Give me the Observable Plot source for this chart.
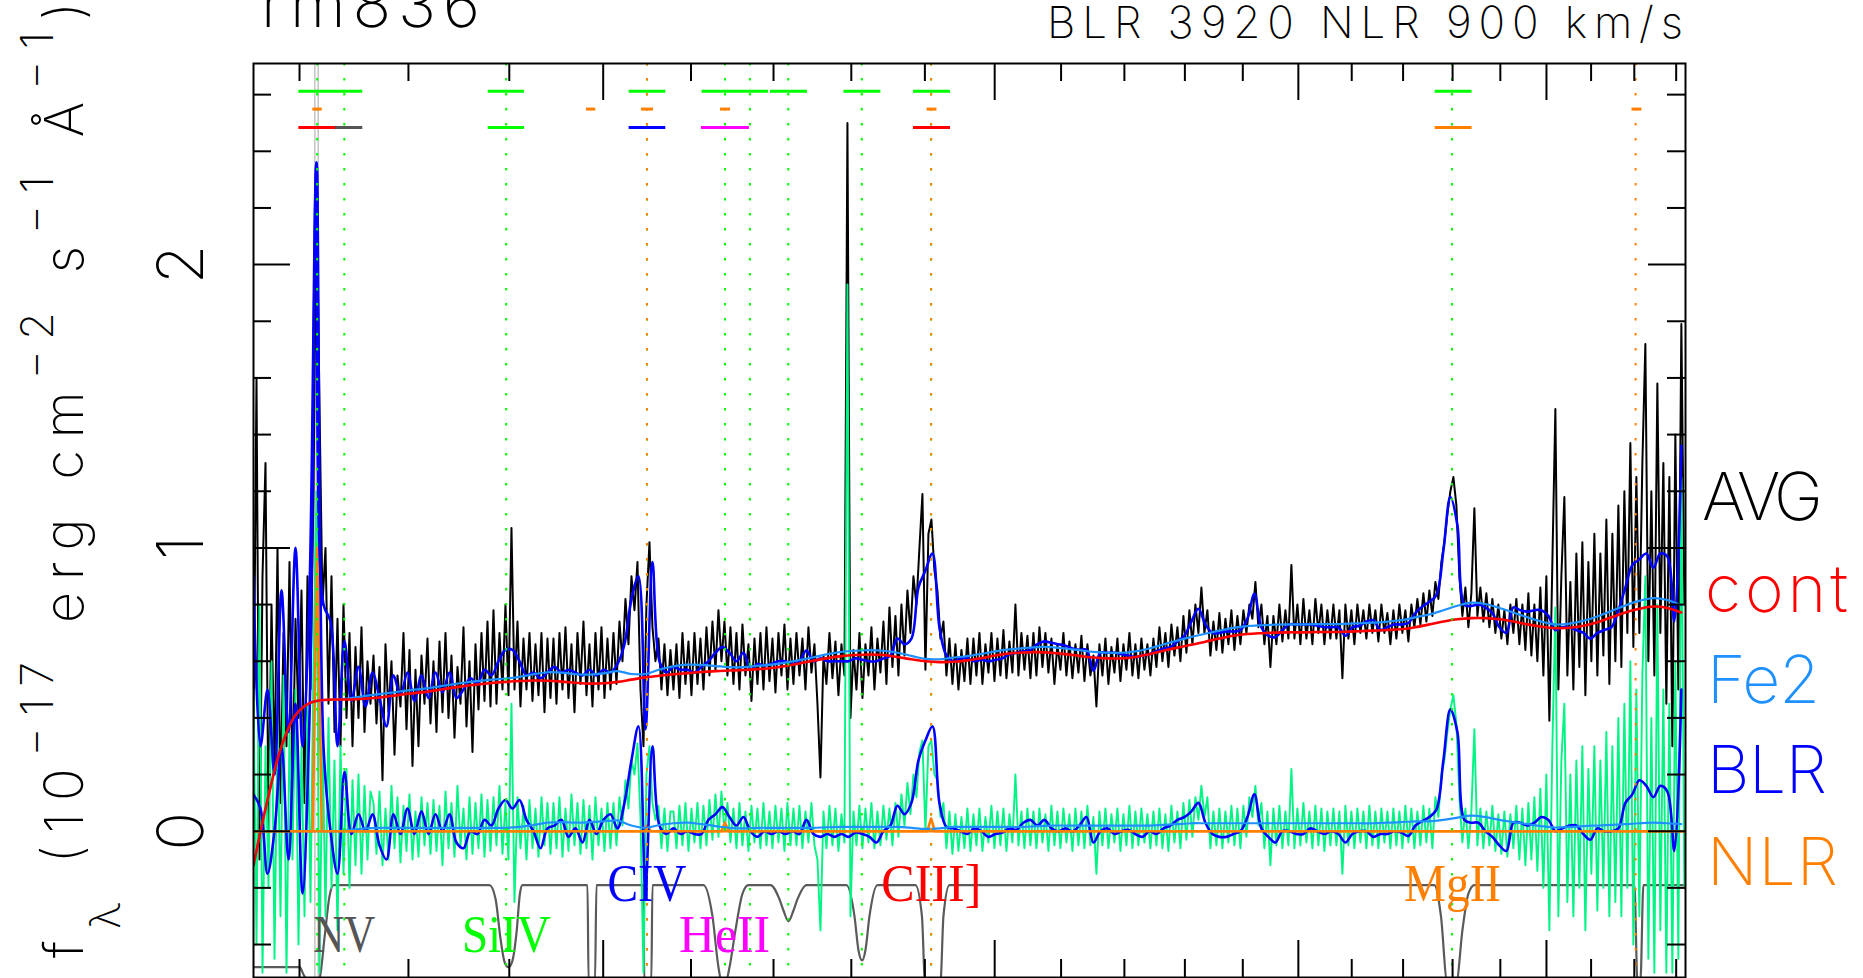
<!DOCTYPE html>
<html><head><meta charset="utf-8">
<script src="https://cdn.jsdelivr.net/npm/d3@7"></script>
<script src="https://cdn.jsdelivr.net/npm/@observablehq/plot@0.6"></script>
<style>
html,body{margin:0;padding:0;background:#fff;overflow:hidden}
#chart svg{display:block}
</style></head><body><div id="chart"></div>
<script>
// ---------------- data (rest-frame wavelength, Angstrom; flux 1e-17 erg/cm2/s/A) ----------------
const LAM0 = 1160.1, LAM1 = 3322.7;
const DENSE_DLN = 0.00220426;   // ln(lambda) step of the spectrum samples
const MODEL_DLN = 0.00514328;   // ln(lambda) step of the model samples
const SMOOTH_DLN = 0.01028655;  // ln(lambda) step of continuum / Fe2 samples

const avgFlux = [
0.3,1.6,-0.1,0.9,1.3,0.0,0.8,0.2,1.0,0.1,0.7,0.3,0.95,0.15,0.75,0.4,0.85,0.1,0.9,0.5,
1.2,2.3,1.5,0.8,1.0,0.45,0.9,0.35,0.75,0.3,0.8,0.4,0.7,0.3,0.65,0.4,0.72,0.35,0.6,0.45,
0.62,0.38,0.58,0.18,0.66,0.42,0.6,0.27,0.55,0.44,0.7,0.36,0.64,0.23,0.57,0.3,0.62,0.45,0.68,0.38,
0.6,0.35,0.67,0.42,0.7,0.4,0.62,0.33,0.58,0.45,0.72,0.37,0.6,0.28,0.66,0.43,0.7,0.46,0.74,0.44,
0.78,0.45,0.7,0.5,0.8,0.48,1.07,0.5,0.74,0.44,0.68,0.5,0.7,0.46,0.66,0.48,0.7,0.42,0.68,0.47,
0.68,0.45,0.7,0.5,0.72,0.47,0.66,0.42,0.7,0.52,0.74,0.48,0.66,0.44,0.7,0.5,0.72,0.47,0.68,0.5,
0.7,0.52,0.74,0.6,0.82,0.66,0.9,0.78,0.95,0.5,0.3,0.8,1.02,0.72,0.6,0.68,0.5,0.66,0.48,0.64,
0.5,0.66,0.47,0.7,0.52,0.67,0.48,0.7,0.52,0.68,0.5,0.72,0.55,0.74,0.57,0.78,0.6,0.74,0.55,0.72,
0.52,0.7,0.5,0.73,0.55,0.66,0.46,0.68,0.52,0.7,0.5,0.72,0.53,0.68,0.49,0.7,0.55,0.73,0.5,0.68,
0.52,0.7,0.55,0.68,0.5,0.72,0.56,0.66,0.45,0.19,0.62,0.52,0.7,0.54,0.67,0.48,0.66,0.55,2.5,0.4,
0.64,0.5,0.7,0.47,0.66,0.55,0.72,0.5,0.68,0.56,0.74,0.52,0.79,0.58,0.76,0.55,0.8,0.62,0.85,0.7,
0.9,0.8,1.0,1.19,0.57,1.05,1.1,0.92,0.85,0.68,0.74,0.55,0.68,0.52,0.66,0.5,0.64,0.53,0.68,0.52,
0.68,0.55,0.7,0.52,0.66,0.56,0.7,0.53,0.68,0.55,0.71,0.54,0.67,0.56,0.8,0.55,0.7,0.57,0.69,0.54,
0.7,0.55,0.72,0.58,0.7,0.56,0.68,0.52,0.66,0.57,0.7,0.55,0.67,0.54,0.66,0.56,0.69,0.53,0.66,0.55,
0.62,0.44,0.66,0.55,0.68,0.52,0.65,0.56,0.68,0.53,0.66,0.57,0.7,0.55,0.66,0.54,0.68,0.57,0.66,0.55,
0.68,0.58,0.72,0.6,0.7,0.58,0.73,0.62,0.72,0.6,0.76,0.63,0.78,0.66,0.8,0.7,0.86,0.7,0.78,0.62,
0.74,0.64,0.77,0.63,0.75,0.66,0.78,0.64,0.76,0.66,0.78,0.7,0.8,0.75,0.88,0.72,0.8,0.66,0.76,0.58,
0.76,0.66,0.8,0.67,0.78,0.68,0.94,0.68,0.8,0.66,0.82,0.68,0.78,0.66,0.82,0.7,0.8,0.66,0.78,0.68,
0.8,0.68,0.78,0.54,0.8,0.68,0.78,0.66,0.8,0.7,0.78,0.68,0.8,0.7,0.78,0.67,0.8,0.7,0.77,0.66,
0.78,0.68,0.8,0.7,0.78,0.67,0.8,0.72,0.82,0.73,0.84,0.74,0.85,0.76,0.88,0.82,0.95,1.02,1.12,1.2,
1.25,1.15,0.9,0.76,0.86,0.72,0.84,1.14,0.76,0.86,0.74,0.84,0.72,0.82,0.7,0.8,0.68,0.78,0.66,0.8,
0.7,0.82,0.66,0.8,0.64,0.84,0.62,0.8,0.6,0.86,0.55,0.9,0.39,0.95,1.49,0.5,0.9,1.18,0.55,0.88,
0.5,0.98,0.58,1.02,0.48,0.95,0.6,1.05,0.55,0.98,0.62,1.1,0.52,1.05,0.6,1.15,0.58,1.2,0.7,1.37,
0.65,1.25,0.7,1.3,1.72,0.6,1.2,0.55,1.58,0.7,1.3,0.45,1.25,0.3,1.4,0.5,1.79,0.8];

const residFlux = [
0.5,-0.4,0.8,-0.5,0.3,-0.2,0.6,-0.45,0.4,-0.3,0.55,-0.5,0.35,-0.1,0.5,-0.4,0.3,-0.3,0.45,-0.25,
0.6,1.2,-0.5,0.35,-0.3,0.4,-0.2,0.25,-0.35,0.3,-0.15,0.22,-0.2,0.18,-0.12,0.2,-0.15,0.16,-0.1,0.14,
0.1,-0.08,0.14,-0.12,0.08,-0.1,0.16,-0.06,0.12,-0.11,0.09,-0.07,0.13,-0.1,0.07,-0.09,0.12,-0.05,0.1,-0.08,
0.11,-0.07,0.09,-0.12,0.14,-0.06,0.1,-0.09,0.16,-0.05,0.08,-0.1,0.12,-0.08,0.1,-0.06,0.13,-0.09,0.11,-0.07,
0.12,-0.05,0.16,-0.08,0.1,-0.1,0.45,-0.25,0.12,-0.06,0.09,-0.1,0.11,-0.06,0.08,-0.09,0.12,-0.05,0.1,-0.08,
0.1,-0.06,0.12,-0.09,0.08,-0.07,0.13,-0.05,0.1,-0.08,0.11,-0.06,0.09,-0.1,0.12,-0.05,0.08,-0.07,0.1,-0.06,
0.1,-0.05,0.12,0.02,0.18,0.08,0.25,0.2,0.31,0.05,-0.5,0.2,0.3,0.1,0.04,0.09,-0.06,0.08,-0.07,0.07,
0.07,-0.06,0.09,-0.05,0.1,-0.07,0.08,-0.04,0.1,-0.06,0.09,-0.05,0.11,-0.03,0.13,-0.02,0.14,0.0,0.1,-0.04,
0.08,-0.06,0.1,-0.05,0.07,-0.07,0.09,-0.04,0.08,-0.06,0.1,-0.05,0.07,-0.06,0.09,-0.04,0.08,-0.07,0.1,-0.05,
0.08,-0.05,0.09,-0.06,0.07,-0.04,0.1,-0.05,-0.1,-0.35,0.07,-0.06,0.09,-0.05,0.08,-0.07,0.06,-0.04,1.93,-0.3,
0.07,-0.05,0.09,-0.06,0.08,-0.04,0.1,-0.06,0.07,-0.05,0.09,-0.03,0.08,-0.05,0.1,-0.02,0.13,0.02,0.17,0.06,
0.2,0.12,0.28,0.32,0.0,0.3,0.32,0.2,0.18,0.05,0.1,-0.06,0.07,-0.08,0.06,-0.07,0.05,-0.06,0.08,-0.07,
0.06,-0.05,0.08,-0.07,0.05,-0.04,0.09,-0.06,0.07,-0.05,0.08,-0.07,0.06,-0.04,0.2,-0.05,0.07,-0.06,0.08,-0.05,
0.07,-0.06,0.08,-0.04,0.06,-0.07,0.09,-0.05,0.07,-0.06,0.08,-0.04,0.06,-0.07,0.08,-0.05,0.07,-0.06,0.09,-0.05,
0.05,-0.15,0.07,-0.05,0.08,-0.06,0.06,-0.04,0.08,-0.07,0.06,-0.05,0.09,-0.06,0.07,-0.05,0.08,-0.04,0.06,-0.06,
0.07,-0.05,0.08,-0.06,0.06,-0.07,0.09,-0.04,0.07,-0.06,0.1,-0.03,0.11,-0.02,0.12,0.04,0.16,0.05,0.12,-0.06,
0.07,-0.05,0.08,-0.06,0.07,-0.04,0.09,-0.05,0.08,-0.06,0.09,-0.02,0.12,0.05,0.16,0.02,0.1,-0.06,0.07,-0.12,
0.08,-0.05,0.09,-0.06,0.07,-0.05,0.22,-0.06,0.08,-0.05,0.1,-0.04,0.07,-0.06,0.09,-0.05,0.08,-0.07,0.07,-0.05,
0.08,-0.05,0.07,-0.15,0.09,-0.05,0.07,-0.06,0.08,-0.04,0.07,-0.06,0.09,-0.05,0.07,-0.06,0.08,-0.04,0.07,-0.06,
0.08,-0.05,0.07,-0.06,0.09,-0.04,0.08,-0.06,0.07,-0.05,0.09,-0.04,0.08,-0.06,0.12,0.05,0.2,0.25,0.35,0.43,
0.48,0.38,0.12,-0.04,0.08,-0.06,0.07,0.36,-0.05,0.08,-0.06,0.07,-0.05,0.09,-0.07,0.06,-0.08,0.07,-0.09,0.06,
-0.06,0.09,-0.1,0.08,-0.12,0.1,-0.1,0.12,-0.14,0.15,-0.2,0.2,-0.35,0.3,0.79,-0.3,0.25,0.45,-0.25,0.2,
-0.3,0.25,-0.2,0.3,-0.35,0.22,-0.15,0.3,-0.28,0.25,-0.2,0.35,-0.3,0.3,-0.25,0.4,-0.3,0.45,-0.2,0.6,
-0.4,0.5,-0.3,0.55,0.9,-0.45,0.4,-0.5,0.8,-0.35,0.5,-0.5,0.45,-0.5,0.6,-0.45,1.25,-0.2];

const blrFlux = [
0.13,0.08,-0.15,0.0,0.3,-0.1,0.45,-0.22,0.4,2.36,
0.3,0.0,-0.15,0.21,-0.01,0.06,0.0,0.06,-0.05,-0.1,
0.06,-0.01,0.08,-0.01,0.07,-0.01,0.06,0.0,0.06,-0.04,
-0.06,0.0,-0.01,0.04,0.02,0.08,0.11,0.08,0.11,0.04,
0.0,-0.06,0.01,0.02,0.04,-0.02,0.01,-0.04,0.04,-0.01,
0.04,0.06,0.01,0.1,0.25,0.37,-0.2,0.3,0.02,-0.01,
0.01,-0.01,0.0,-0.01,-0.01,0.04,0.06,0.085,0.05,0.02,
0.05,0.0,-0.02,0.0,-0.01,0.0,-0.01,0.0,-0.01,0.04,
-0.01,-0.02,-0.01,-0.02,-0.01,-0.02,-0.005,-0.01,-0.02,-0.04,
0.0,0.02,0.09,0.06,0.1,0.25,0.32,0.37,0.1,0.015,
0.01,0.0,-0.01,0.01,0.0,-0.02,-0.01,-0.005,0.01,0.005,
0.03,0.04,0.02,0.04,0.01,0.0,0.01,0.0,0.02,0.05,
-0.04,0.0,0.01,-0.01,0.0,0.005,-0.01,-0.02,0.0,-0.01,
0.01,0.02,0.04,0.05,0.07,0.1,0.03,-0.01,-0.02,-0.02,
-0.01,0.0,0.05,0.13,0.01,-0.02,-0.04,0.0,0.0,-0.01,
-0.01,0.01,0.0,-0.01,0.0,-0.01,-0.04,-0.01,0.0,0.0,
-0.02,-0.01,-0.01,0.0,-0.005,-0.017,0.02,0.036,0.05,0.076,
0.25,0.43,0.35,0.04,0.03,0.03,0.0,-0.02,-0.05,-0.07,
0.03,0.03,0.02,0.03,0.05,0.04,0.0,0.01,0.02,0.02,
-0.01,-0.03,0.01,0.0,0.0,0.01,0.1,0.13,0.18,0.16,
0.12,0.16,0.14,-0.07,0.5];

const totalFlux = [
0.9,0.3,0.5,0.2,0.85,0.35,1.0,0.3,0.85,2.36,
0.8,0.74,0.3,0.67,0.46,0.58,0.44,0.56,0.47,0.37,
0.55,0.48,0.56,0.46,0.55,0.47,0.56,0.49,0.56,0.47,
0.5,0.54,0.52,0.57,0.55,0.6,0.64,0.64,0.6,0.55,
0.56,0.54,0.56,0.58,0.56,0.57,0.56,0.55,0.57,0.55,
0.57,0.56,0.59,0.66,0.82,0.9,0.36,0.95,0.6,0.56,
0.58,0.57,0.57,0.56,0.58,0.6,0.63,0.65,0.63,0.6,
0.63,0.57,0.59,0.585,0.59,0.6,0.6,0.59,0.6,0.638,
0.6,0.61,0.6,0.6,0.6,0.6,0.61,0.605,0.6,0.6,
0.61,0.62,0.68,0.66,0.68,0.86,0.92,0.98,0.72,0.62,
0.6,0.61,0.61,0.6,0.605,0.6,0.605,0.61,0.625,0.63,
0.635,0.64,0.66,0.67,0.665,0.66,0.655,0.645,0.64,0.64,
0.567,0.63,0.63,0.63,0.625,0.62,0.615,0.62,0.625,0.635,
0.645,0.65,0.67,0.69,0.74,0.785,0.73,0.7,0.7,0.705,
0.705,0.71,0.75,0.838,0.72,0.69,0.685,0.71,0.73,0.73,
0.73,0.73,0.725,0.72,0.72,0.72,0.69,0.72,0.725,0.74,
0.745,0.71,0.72,0.73,0.73,0.735,0.77,0.793,0.81,0.833,
0.99,1.18,1.08,0.8,0.795,0.8,0.79,0.77,0.72,0.7,
0.79,0.78,0.775,0.78,0.78,0.76,0.71,0.72,0.72,0.71,
0.7,0.68,0.7,0.71,0.72,0.78,0.86,0.94,0.96,0.98,
0.93,0.98,0.97,0.74,1.36];

const contFlux = [
-0.12,0.11,0.3,0.41,0.452,0.463,0.465,0.465,0.468,0.472,
0.478,0.485,0.49,0.497,0.505,0.512,0.518,0.523,0.527,0.53,
0.532,0.531,0.528,0.524,0.521,0.522,0.527,0.535,0.543,0.549,
0.554,0.558,0.562,0.565,0.567,0.569,0.572,0.576,0.583,0.592,
0.602,0.611,0.618,0.622,0.624,0.622,0.615,0.607,0.6,0.597,
0.598,0.603,0.611,0.62,0.627,0.631,0.632,0.63,0.625,0.619,
0.613,0.61,0.61,0.615,0.625,0.637,0.648,0.658,0.669,0.68,
0.69,0.696,0.699,0.701,0.702,0.702,0.703,0.703,0.704,0.706,
0.708,0.71,0.713,0.72,0.73,0.74,0.748,0.752,0.752,0.748,
0.74,0.73,0.722,0.717,0.718,0.725,0.738,0.755,0.772,0.785,
0.793,0.788,0.772];

const fe2Flux = [
0,0,0,0,0,0,0,0.005,0.01,0.012,
0.012,0.012,0.012,0.012,0.012,0.012,0.012,0.012,0.012,0.015,
0.022,0.03,0.032,0.03,0.032,0.035,0.038,0.02,0.012,0.022,
0.028,0.03,0.025,0.018,0.012,0.01,0.012,0.012,0.012,0.012,
0.012,0.014,0.015,0.015,0.015,0.015,0.015,0.012,0.008,0.01,
0.015,0.015,0.015,0.015,0.015,0.015,0.018,0.02,0.02,0.02,
0.02,0.02,0.02,0.02,0.02,0.022,0.025,0.028,0.028,0.028,
0.028,0.028,0.028,0.028,0.028,0.028,0.028,0.028,0.028,0.028,
0.028,0.03,0.032,0.035,0.035,0.04,0.048,0.055,0.05,0.04,
0.032,0.025,0.018,0.013,0.015,0.018,0.02,0.022,0.025,0.028,
0.03,0.028,0.025];

const nlrLam  = [1160.1,1211.6,1215.7,1219.8,1544.8,1549.1,1553.4,1635.8,1640.4,1645.0,1903.4,1908.7,1914.0,3322.7];
const nlrFlux = [0,0,1.0,0,0,0.02,0,0,0.03,0,0,0.045,0,0];

const maskLam = [1160.1,1200.0,1204.0,1208.0,1216.0,1217.8,1222.7,1226.7,1230.4,
 1379.8,1386,1391,1395,1399,1403,1407.4,1411,1413.6,
 1482.8,1484,1491,1492.6,
 1545.1,1546,1554,1555.3,
 1614.7,1625.4,1632.6,1636.2,1641.6,1645.9,1653.1,1661.7,1669.0,
 1696.2,1707.4,1712.5,1718.8,1725.1,1730.2,1741.7,
 1793.6,1804.2,1809.5,1814.4,1818.8,1824.2,1834.9,
 1886.9,1895.9,1900.2,1921.9,1926.1,1934.6,
 2762.9,2776.2,2788.8,2808,2820.3,2832.8,2845.3,
 3200.3,3207.4,3214.4,3221.5,3322.7];
const maskVal = [-0.48,-0.48,-0.51,-0.53,-0.53,-0.52,-0.36,-0.23,-0.19,
 -0.19,-0.24,-0.38,-0.46,-0.48,-0.46,-0.36,-0.22,-0.19,
 -0.19,-0.53,-0.53,-0.19,
 -0.19,-0.53,-0.53,-0.19,
 -0.19,-0.3,-0.48,-0.53,-0.53,-0.48,-0.35,-0.22,-0.19,
 -0.19,-0.24,-0.28,-0.318,-0.28,-0.24,-0.19,
 -0.19,-0.3,-0.42,-0.456,-0.42,-0.3,-0.19,
 -0.19,-0.3,-0.53,-0.53,-0.3,-0.19,
 -0.19,-0.3,-0.53,-0.53,-0.35,-0.22,-0.19,
 -0.19,-0.53,-0.53,-0.19,-0.19];

// line lists
const blrLineLam = [1215.67,1240.14,1396.76,1549.06,1640.42,1670.79,1718.55,1814.0,1908.73,2798.75];
const nlrLineLam = [1549.06,1908.73,3203.1];
const lyaMarkLam = [1213.6,1216.6];
// fit windows (three rows at the top)
const blrWinLo = [1199.4,1378.5,1528.9,1613.0,1696.2,1790.3,1884.1,2764.4];
const blrWinHi = [1257.1,1415.7,1570.6,1693.8,1743.0,1839.5,1936.1,2840.4];
const nlrWinLo = [1211.8,1481.7,1542.8,1635.0,1903.1,3194.6];
const nlrWinHi = [1220.2,1491.9,1556.5,1647.1,1916.9,3217.9];
const ionWinLo = [1225.0,1199.4,1378.5,1528.9,1612.3,1884.1,2764.4];
const ionWinHi = [1257.1,1232.2,1415.7,1570.6,1670.2,1936.1,2840.4];
const ionWinIon = ["NV","Lya","SiIV","CIV","HeII","CIII]","MgII"];
// line labels
const labelText = ["NV","SiIV","CIV","HeII","CIII]","MgII"];
const labelLam  = [1240,1397,1549,1640,1909,2800];
const labelTier = [0,0,1,0,1,1];
// axis ticks
const xMinorTicks = [1200,1300,1400,1600,1700,1800,1900,2100,2200,2300,2400,2600,2700,2800,2900,3100,3200,3300];
const xMajorTicks = [1500,2000,2500,3000];
const yMinorTicks = [-0.4,-0.2,0.2,0.4,0.6,0.8,1.2,1.4,1.6,1.8,2.2,2.4,2.6];
const yMajorTicks = [0,1,2];
const legendNames = ["AVG","cont","Fe2","BLR","NLR"];

// ---------------- styles ----------------
const ionColor = {NV:"#555555", Lya:"#ff0000", SiIV:"#00ff00", CIV:"#0000ff", HeII:"#ff00ff", "CIII]":"#ff0000", MgII:"#ff8000"};
const legendColor = {AVG:"#000000", cont:"#ff0000", Fe2:"#1e90ff", BLR:"#0000ff", NLR:"#ff8000"};
const SANS = "Inter, 'DejaVu Sans', sans-serif";
const SERIF = "'Liberation Serif', 'DejaVu Serif', serif";
const ROW_Y = [2.612, 2.549, 2.484];
const TIER_Y = [-0.428, -0.247];
const FRAME_H = 914, FRAME_W = 1432;

// ---------------- tables ----------------
const dense = avgFlux.map((f, i) => ({lam: LAM0 * Math.exp(i * DENSE_DLN), avg: f, res: residFlux[i]}));
const model = blrFlux.map((b, i) => ({lam: LAM0 * Math.exp(i * MODEL_DLN), blr: b, tot: totalFlux[i]}));
const smooth = contFlux.map((c, i) => ({lam: LAM0 * Math.exp(i * SMOOTH_DLN), cont: c, fe2: fe2Flux[i], cf: c + fe2Flux[i]}));
const nlr = nlrLam.map((l, i) => ({lam: l, f: nlrFlux[i]}));
const mask = maskLam.map((l, i) => ({lam: l, v: maskVal[i]}));
const blrWin = blrWinLo.map((l, i) => ({lo: l, hi: blrWinHi[i]}));
const nlrWin = nlrWinLo.map((l, i) => ({lo: l, hi: nlrWinHi[i]}));
const ionWin = ionWinLo.map((l, i) => ({lo: l, hi: ionWinHi[i], ion: ionWinIon[i]}));
const labels = labelText.map((t, i) => ({text: t, lam: labelLam[i], tier: labelTier[i]}));

const plot = Plot.plot({
  width: 1863, height: 978,
  marginLeft: 253, marginRight: 178, marginTop: 63, marginBottom: 1,
  x: {type: "log", domain: [LAM0, LAM1], axis: null},
  y: {domain: [-0.5164, 2.7099], axis: null},
  style: {background: "white", fontFamily: SANS},
  marks: [
    Plot.ruleX(lyaMarkLam, {x: d => d, stroke: "#c4c4c4", strokeWidth: 1.5}),
    Plot.line(mask, {x: "lam", y: "v", stroke: "#5a5a5a", strokeWidth: 2.2, curve: "monotone-x", clip: true}),
    Plot.line(dense, {x: "lam", y: "avg", stroke: "#000000", strokeWidth: 2, clip: true}),
    Plot.line(dense, {x: "lam", y: "res", stroke: "#00f585", strokeWidth: 1.9, clip: true}),
    Plot.line(nlr, {x: "lam", y: "f", stroke: "#ff8000", strokeWidth: 2.6, clip: true}),
    Plot.line(model, {x: "lam", y: "tot", stroke: "#0000ff", strokeWidth: 2.6, curve: "catmull-rom", clip: true}),
    Plot.line(model, {x: "lam", y: "blr", stroke: "#0000ff", strokeWidth: 2.6, curve: "catmull-rom", clip: true}),
    Plot.line(smooth, {x: "lam", y: "cf", stroke: "#1e90ff", strokeWidth: 2.2, curve: "catmull-rom", clip: true}),
    Plot.line(smooth, {x: "lam", y: "fe2", stroke: "#1e90ff", strokeWidth: 2.2, curve: "catmull-rom", clip: true}),
    Plot.line(smooth, {x: "lam", y: "cont", stroke: "#ff0000", strokeWidth: 2.6, curve: "catmull-rom", clip: true}),
    Plot.ruleY([0], {stroke: "#ff8000", strokeWidth: 2.6}),
    Plot.ruleX(blrLineLam, {x: d => d, stroke: "#00ff00", strokeWidth: 2, strokeDasharray: "2.5,12.5"}),
    Plot.ruleX(nlrLineLam, {x: d => d, stroke: "#ff8000", strokeWidth: 2, strokeDasharray: "2.5,12.5"}),
    Plot.ruleY(blrWin, {y: () => ROW_Y[0], x1: "lo", x2: "hi", stroke: "#00ff00", strokeWidth: 3}),
    Plot.ruleY(nlrWin, {y: () => ROW_Y[1], x1: "lo", x2: "hi", stroke: "#ff8000", strokeWidth: 3}),
    Plot.ruleY(ionWin, {y: () => ROW_Y[2], x1: "lo", x2: "hi", stroke: d => ionColor[d.ion], strokeWidth: 3}),
    Plot.text(labels, {x: "lam", y: d => TIER_Y[d.tier], text: "text", fill: d => ionColor[d.text],
      fontFamily: SERIF, fontSize: 53, textAnchor: "middle", lineAnchor: "bottom"}),
    Plot.tickX(xMinorTicks, {x: d => d, insetBottom: FRAME_H - 18, stroke: "#000", strokeWidth: 2}),
    Plot.tickX(xMajorTicks, {x: d => d, insetBottom: FRAME_H - 37, stroke: "#000", strokeWidth: 2}),
    Plot.tickX(xMinorTicks, {x: d => d, insetTop: FRAME_H - 18, stroke: "#000", strokeWidth: 2}),
    Plot.tickX(xMajorTicks, {x: d => d, insetTop: FRAME_H - 37, stroke: "#000", strokeWidth: 2}),
    Plot.tickY(yMinorTicks, {y: d => d, insetRight: FRAME_W - 18, stroke: "#000", strokeWidth: 2}),
    Plot.tickY(yMajorTicks, {y: d => d, insetRight: FRAME_W - 37, stroke: "#000", strokeWidth: 2}),
    Plot.tickY(yMinorTicks, {y: d => d, insetLeft: FRAME_W - 18, stroke: "#000", strokeWidth: 2}),
    Plot.tickY(yMajorTicks, {y: d => d, insetLeft: FRAME_W - 37, stroke: "#000", strokeWidth: 2}),
    Plot.frame({stroke: "#000", strokeWidth: 2}),
    Plot.text(yMajorTicks, {y: d => d, text: d => String(d), frameAnchor: "left", dx: -51, rotate: -90,
      textAnchor: "middle", lineAnchor: "bottom", fontSize: 64, fontWeight: 200, fill: "#000", fontFamily: SANS})
  ]
});
document.getElementById("chart").appendChild(plot);

const svg = d3.select(plot);
// fit widths of serif labels
const fitLen = {NV: 62, SiIV: 89, CIV: 79, HeII: 91, "CIII]": 100, MgII: 97};
svg.selectAll("text").each(function () {
  const t = this.textContent;
  if (fitLen[t] !== undefined) d3.select(this).attr("textLength", fitLen[t]).attr("lengthAdjust", "spacingAndGlyphs");
});

function addText(str, x, y, size, color, len) {
  const t = svg.append("text").attr("x", x).attr("y", y).attr("font-family", SANS)
    .attr("text-anchor", "start").attr("font-weight", 200).attr("font-size", size).attr("fill", color).text(str);
  if (len) t.attr("textLength", len).attr("lengthAdjust", "spacing");
  return t;
}
addText("rm836", 261, 26.7, 64, "#000", 219);
addText("BLR 3920 NLR 900 km/s", 1047, 38.3, 44, "#000", 636);
const legX = [1702, 1705, 1707, 1707, 1707];
const legY = [520, 611.7, 703.3, 793.3, 885];
const legLen = [121, 143, 113, 120, 131];
legendNames.forEach((n, i) => addText(n, legX[i], legY[i], 66, legendColor[n], legLen[i]));

// y-axis title
const ylab = svg.append("text").attr("transform", "translate(83,958) rotate(-90)")
  .attr("text-anchor", "start").attr("font-family", SANS).attr("font-weight", 200).attr("fill", "#000").attr("font-size", 54);
[["f",54,0],["\u03bb",42,37],[" (10",54,-37],["\u221217",45,-30],[" erg cm",54,30],["\u22122",45,-30],
 [" s",54,30],["\u22121",45,-30],[" \u00c5",54,30],["\u22121",45,-30],[")",54,30]]
 .forEach(([t, s, dy]) => ylab.append("tspan").attr("font-size", s).attr("dy", dy).text(t));
ylab.attr("textLength", 956).attr("lengthAdjust", "spacing");
</script></body></html>
